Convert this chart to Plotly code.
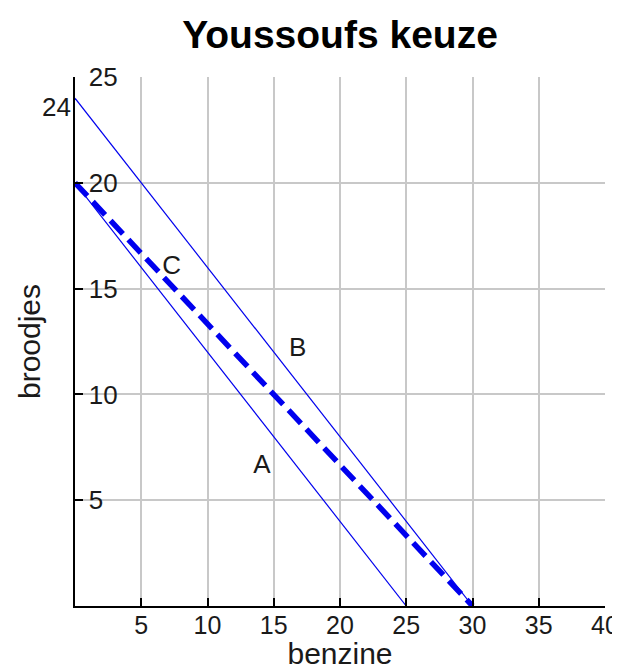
import plotly.graph_objects as go

# Data
benzine_A = [0, 25]
broodjes_A = [20, 0]
benzine_B = [0, 30]
broodjes_B = [24, 0]
benzine_C = [0, 30]
broodjes_C = [20, 0]

label_text = ["A", "B", "C"]
label_x = [14.1, 16.8, 7.3]
label_y = [6.6, 12.1, 16.0]

x_ticks = [5, 10, 15, 20, 25, 30, 35, 40]
y_ticks = [5, 10, 15, 20, 25]
extra_y_label = 24

blue = "#0000ee"
font = "Liberation Sans, Arial, sans-serif"
tc = "#1a1a1a"

fig = go.Figure()
fig.add_trace(go.Scatter(x=benzine_A, y=broodjes_A, mode="lines",
                         line=dict(color=blue, width=1.2), showlegend=False))
fig.add_trace(go.Scatter(x=benzine_B, y=broodjes_B, mode="lines",
                         line=dict(color=blue, width=1.2), showlegend=False))
fig.add_trace(go.Scatter(x=benzine_C, y=broodjes_C, mode="lines",
                         line=dict(color=blue, width=5.5, dash="18px,8px"),
                         showlegend=False))
fig.add_trace(go.Scatter(x=label_x, y=label_y, mode="text", text=label_text,
                         textfont=dict(family=font, size=26, color=tc),
                         showlegend=False))

fig.add_annotation(x=0, y=extra_y_label, xref="x", yref="y", text=str(extra_y_label),
                   showarrow=False, xanchor="right", yanchor="middle", xshift=-2, yshift=-9,
                   font=dict(family=font, size=26, color=tc))

# page body has an 8px margin, so the figure is sized to fit the visible window
fig.update_layout(
    width=612, height=662,
    margin=dict(l=67, r=15, t=69, b=64, autoexpand=False),
    paper_bgcolor="white", plot_bgcolor="white",
    title=dict(text="<b>Youssoufs keuze</b>", x=332 / 612, xanchor="center",
               y=1 - 26 / 662, yanchor="middle",
               font=dict(family=font, size=39, color="black")),
)
fig.update_xaxes(
    range=[0, 40], tickvals=x_ticks, ticktext=[str(v) for v in x_ticks],
    showgrid=True, gridcolor="#c8c8c8", gridwidth=1.5,
    showline=True, linecolor="black", linewidth=2,
    ticks="inside", ticklen=8, tickwidth=2, tickcolor="black",
    ticklabelstandoff=-4,
    tickfont=dict(family=font, size=25, color=tc),
    title=dict(text="benzine", font=dict(family=font, size=30, color=tc), standoff=6),
    zeroline=False, automargin=False,
)
fig.update_yaxes(
    range=[0, 25], tickvals=y_ticks, ticktext=[str(v) for v in y_ticks],
    showgrid=True, gridcolor="#c8c8c8", gridwidth=1.5,
    showline=True, linecolor="black", linewidth=2,
    ticks="inside", ticklen=8, tickwidth=2, tickcolor="black",
    ticklabelposition="inside", ticklabeloverflow="allow", ticklabelstandoff=8,
    tickfont=dict(family=font, size=26, color=tc),
    title=dict(text="broodjes", font=dict(family=font, size=30, color=tc), standoff=39),
    zeroline=False, automargin=False,
)

fig.write_html("out.html")
